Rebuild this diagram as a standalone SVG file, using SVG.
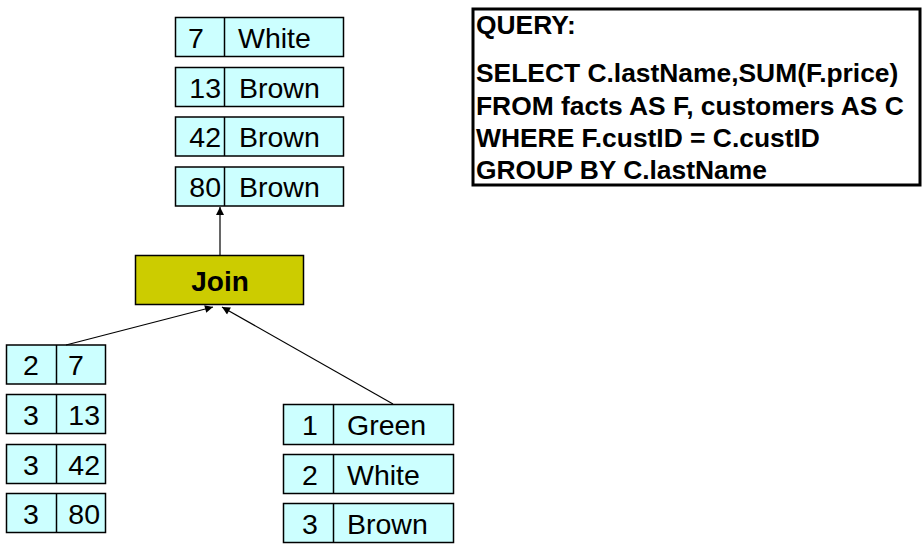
<svg xmlns="http://www.w3.org/2000/svg" width="924" height="549" viewBox="0 0 924 549">
<defs>
<style>
.cell{fill:#ccffff;stroke:#000;stroke-width:1.5}
.t{font-family:"Liberation Sans",Arial,sans-serif;font-size:28.5px;fill:#000}
.q{font-family:"Liberation Sans",Arial,sans-serif;font-size:26.4px;font-weight:bold;fill:#000}
.edge{stroke:#000;stroke-width:1.2;fill:none;marker-end:url(#ah)}
</style>
<marker id="ah" viewBox="0 0 10 10" refX="10" refY="5" markerWidth="10" markerHeight="8" markerUnits="userSpaceOnUse" orient="auto">
<path d="M0,0 L10,5 L0,10 z" fill="#000"/>
</marker>
</defs>
<rect width="924" height="549" fill="#fff"/>

<g id="result">
<rect class="cell" x="175.5" y="17.5" width="168" height="39"/><line x1="224.5" y1="17.5" x2="224.5" y2="56.5" stroke="#000" stroke-width="1.5"/>
<text class="t" x="188" y="48">7</text><text class="t" x="238" y="48">White</text>
<rect class="cell" x="175.5" y="67.5" width="168" height="39"/><line x1="224.5" y1="67.5" x2="224.5" y2="106.5" stroke="#000" stroke-width="1.5"/>
<text class="t" x="221" y="98" text-anchor="end">13</text><text class="t" x="239" y="98">Brown</text>
<rect class="cell" x="175.5" y="117" width="168" height="39"/><line x1="224.5" y1="117" x2="224.5" y2="156" stroke="#000" stroke-width="1.5"/>
<text class="t" x="221" y="147" text-anchor="end">42</text><text class="t" x="239" y="147">Brown</text>
<rect class="cell" x="175.5" y="167" width="168" height="39"/><line x1="224.5" y1="167" x2="224.5" y2="206" stroke="#000" stroke-width="1.5"/>
<text class="t" x="221" y="197" text-anchor="end">80</text><text class="t" x="239" y="197">Brown</text>
</g>

<g id="join">
<rect x="135.5" y="255.5" width="168" height="49" fill="#cccc00" stroke="#000" stroke-width="1.5"/>
<text x="220" y="291" text-anchor="middle" font-family="Liberation Sans,Arial,sans-serif" font-size="28" font-weight="bold">Join</text>
</g>

<g id="facts">
<rect class="cell" x="6.5" y="345" width="99" height="39"/><line x1="56.5" y1="345" x2="56.5" y2="384" stroke="#000" stroke-width="1.5"/>
<text class="t" x="31" y="375" text-anchor="middle">2</text><text class="t" x="68" y="375">7</text>
<rect class="cell" x="6.5" y="394.5" width="99" height="39"/><line x1="56.5" y1="394.5" x2="56.5" y2="433.5" stroke="#000" stroke-width="1.5"/>
<text class="t" x="31" y="424.5" text-anchor="middle">3</text><text class="t" x="100" y="424.5" text-anchor="end">13</text>
<rect class="cell" x="6.5" y="444.5" width="99" height="39"/><line x1="56.5" y1="444.5" x2="56.5" y2="483.5" stroke="#000" stroke-width="1.5"/>
<text class="t" x="31" y="474.5" text-anchor="middle">3</text><text class="t" x="100" y="474.5" text-anchor="end">42</text>
<rect class="cell" x="6.5" y="493.5" width="99" height="39"/><line x1="56.5" y1="493.5" x2="56.5" y2="532.5" stroke="#000" stroke-width="1.5"/>
<text class="t" x="31" y="523.5" text-anchor="middle">3</text><text class="t" x="100" y="523.5" text-anchor="end">80</text>
</g>

<g id="customers">
<rect class="cell" x="283.5" y="404.5" width="170" height="40"/><line x1="333.5" y1="404.5" x2="333.5" y2="444.5" stroke="#000" stroke-width="1.5"/>
<text class="t" x="310" y="435" text-anchor="middle">1</text><text class="t" x="347" y="435">Green</text>
<rect class="cell" x="283.5" y="454.5" width="170" height="39"/><line x1="333.5" y1="454.5" x2="333.5" y2="493.5" stroke="#000" stroke-width="1.5"/>
<text class="t" x="310" y="484.5" text-anchor="middle">2</text><text class="t" x="347" y="484.5">White</text>
<rect class="cell" x="283.5" y="503.5" width="170" height="39"/><line x1="333.5" y1="503.5" x2="333.5" y2="542.5" stroke="#000" stroke-width="1.5"/>
<text class="t" x="310" y="533.5" text-anchor="middle">3</text><text class="t" x="347" y="533.5">Brown</text>
</g>

<g id="connectors">
<line class="edge" x1="220" y1="255" x2="220" y2="207"/>
<line class="edge" x1="66" y1="345" x2="213" y2="307"/>
<line class="edge" x1="393" y1="404" x2="222" y2="307"/>
</g>

<g id="query">
<rect x="473" y="9" width="447" height="176" fill="#fff" stroke="#000" stroke-width="3"/>
<text class="q" x="476" y="34">QUERY:</text>
<text class="q" x="476" y="82">SELECT C.lastName,SUM(F.price)</text>
<text class="q" x="476" y="115">FROM facts AS F, customers AS C</text>
<text class="q" x="476" y="147">WHERE F.custID = C.custID</text>
<text class="q" x="476" y="179">GROUP BY C.lastName</text>
</g>
</svg>
